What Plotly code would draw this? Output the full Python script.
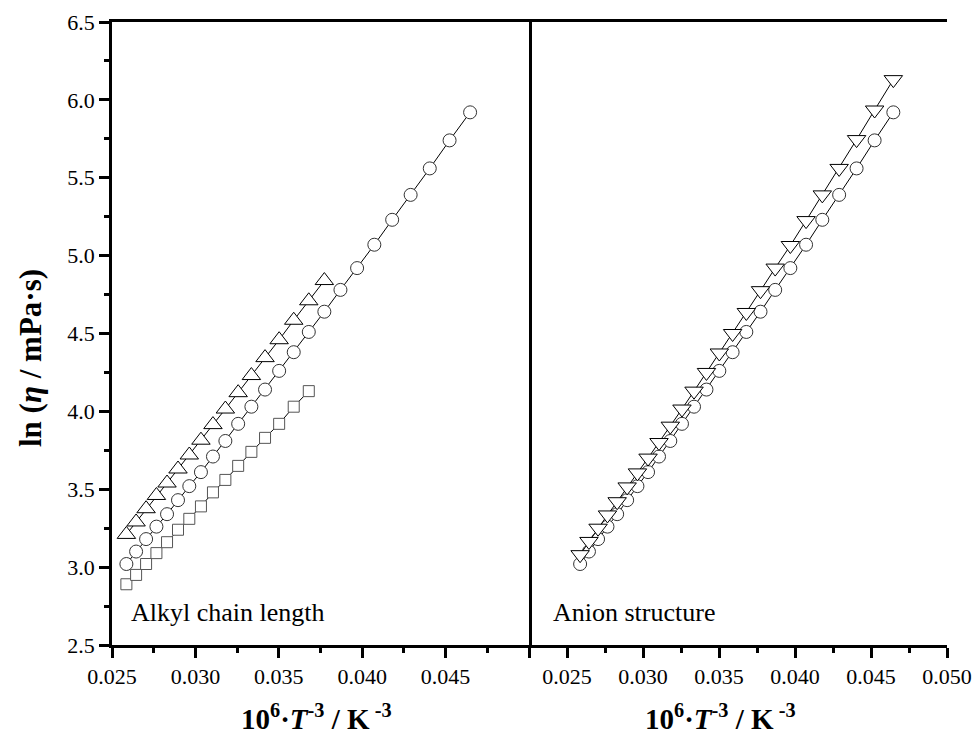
import plotly.graph_objects as go

# 10^6 * T^-3 values (K^-3), T = 338.15 K down to 278.15 K
x_T = [0.025863, 0.026445, 0.027044, 0.027663, 0.028300, 0.028957, 0.029634,
       0.030332, 0.031053, 0.031797, 0.032564, 0.033357, 0.034175, 0.035021,
       0.035895, 0.036798, 0.037731, 0.038696, 0.039694, 0.040728, 0.041797,
       0.042904, 0.044051, 0.045238, 0.046469]

# ln(eta / mPa s)
ln_eta_circle = [3.02, 3.10, 3.18, 3.26, 3.34, 3.43, 3.52, 3.61, 3.71, 3.81,
                 3.92, 4.03, 4.14, 4.26, 4.38, 4.51, 4.64, 4.78, 4.92, 5.07,
                 5.23, 5.39, 5.56, 5.74, 5.92]
ln_eta_triup = [3.21, 3.29, 3.375, 3.46, 3.54, 3.63, 3.72, 3.815, 3.915, 4.015,
                4.12, 4.23, 4.345, 4.46, 4.585, 4.71, 4.84]
ln_eta_square = [2.89, 2.95, 3.02, 3.09, 3.16, 3.24, 3.31, 3.39, 3.48, 3.56,
                 3.65, 3.74, 3.83, 3.92, 4.03, 4.13]
ln_eta_tridown = [3.08, 3.165, 3.25, 3.335, 3.42, 3.515, 3.605, 3.70, 3.80, 3.905,
                  4.015, 4.13, 4.25, 4.375, 4.50, 4.635, 4.775, 4.92, 5.065, 5.225,
                  5.39, 5.56, 5.745, 5.935, 6.13]

x_tickvals = [0.025, 0.030, 0.035, 0.040, 0.045, 0.050]
x_ticktext_left = ["0.025", "0.030", "0.035", "0.040", "0.045", ""]
x_ticktext_right = ["0.025", "0.030", "0.035", "0.040", "0.045", "0.050"]
y_tickvals = [2.5, 3.0, 3.5, 4.0, 4.5, 5.0, 5.5, 6.0, 6.5]
y_ticktext = ["2.5", "3.0", "3.5", "4.0", "4.5", "5.0", "5.5", "6.0", "6.5"]

panel_labels = ["Alkyl chain length", "Anion structure"]

FONT = "Times New Roman, Liberation Serif, DejaVu Serif, serif"

fig = go.Figure()


def add_series(x, y, symbol, size, edge, xa, ya):
    fig.add_trace(go.Scatter(
        x=x, y=y, mode="lines+markers", xaxis=xa, yaxis=ya,
        line=dict(color="black", width=1),
        marker=dict(symbol=symbol, size=size, color="white",
                    line=dict(color=edge, width=1)),
        showlegend=False, cliponaxis=False))


# Left panel
add_series(x_T[:16], ln_eta_square, "square", 11, "#555555", "x", "y")
add_series(x_T, ln_eta_circle, "circle", 13, "#333333", "x", "y")
add_series(x_T[:17], ln_eta_triup, "triangle-up", 16, "black", "x", "y")
# Right panel
add_series(x_T, ln_eta_circle, "circle", 13, "#333333", "x2", "y2")
add_series(x_T, ln_eta_tridown, "triangle-down", 16, "black", "x2", "y2")

W, H = 976, 737
xl0, xl1, xr1 = 112, 529, 947
yt, yb = 22, 645
pw = xr1 - xl0
ph = yb - yt
split = (xl1 - xl0) / pw


def px(x):
    return (x - xl0) / pw


def py(y):
    return (yb - y) / ph


common_x = dict(
    showline=True, linecolor="black", linewidth=2.5, mirror=True,
    ticks="outside", ticklen=10, tickwidth=2.5, tickcolor="black",
    showgrid=False, zeroline=False, tickmode="array", tickvals=x_tickvals,
    automargin=False, ticklabeloverflow="allow",
    tickfont=dict(family=FONT, size=22, color="black"),
    minor=dict(tick0=0.025, dtick=0.0025, ticks="outside", ticklen=5,
               tickwidth=2.5, tickcolor="black", showgrid=False),
)

fig.update_layout(
    width=W, height=H,
    margin=dict(l=xl0, r=W - xr1, t=yt, b=H - yb, pad=0, autoexpand=False),
    paper_bgcolor="white", plot_bgcolor="white",
    font=dict(family=FONT, color="black"),
    xaxis=dict(common_x, domain=[0, split], range=[0.025, 0.050],
               ticktext=x_ticktext_left, anchor="y"),
    xaxis2=dict(common_x, domain=[split, 1], range=[0.0225, 0.050],
                ticktext=x_ticktext_right, anchor="y2"),
    yaxis=dict(domain=[0, 1], range=[2.5, 6.5], anchor="x", automargin=False,
               showline=True, linecolor="black", linewidth=2.5, mirror=True,
               ticks="outside", ticklen=10, tickwidth=2.5, tickcolor="black",
               tickmode="array", tickvals=y_tickvals, ticktext=y_ticktext,
               ticklabeloverflow="allow",
               tickfont=dict(family=FONT, size=22, color="black"),
               minor=dict(tick0=2.5, dtick=0.25, ticks="outside", ticklen=5,
                          tickwidth=2.5, tickcolor="black", showgrid=False),
               showgrid=False, zeroline=False),
    yaxis2=dict(domain=[0, 1], range=[2.5, 6.5], anchor="x2", automargin=False,
                matches="y", showline=False,
                ticks="", showticklabels=False, showgrid=False, zeroline=False),
)

xtitle = "<b>10<sup>6</sup>·<i>T</i><sup>-3</sup> / K<sup> -3</sup></b>"
annotations = [
    dict(text=xtitle, x=px(316), y=py(717), xref="paper", yref="paper",
         showarrow=False, font=dict(family=FONT, size=29, color="black"),
         xanchor="center", yanchor="middle"),
    dict(text=xtitle, x=px(720), y=py(717), xref="paper", yref="paper",
         showarrow=False, font=dict(family=FONT, size=29, color="black"),
         xanchor="center", yanchor="middle"),
    dict(text="<b>ln (<i>η</i> / mPa·s)</b>", x=px(30), y=py(358),
         xref="paper", yref="paper", showarrow=False, textangle=-90,
         font=dict(family=FONT, size=31, color="black"),
         xanchor="center", yanchor="middle"),
    dict(text=panel_labels[0], x=px(129), y=py(612), xref="paper",
         yref="paper", showarrow=False, xanchor="left", yanchor="middle",
         font=dict(family=FONT, size=26, color="black")),
    dict(text=panel_labels[1], x=px(551), y=py(612), xref="paper",
         yref="paper", showarrow=False, xanchor="left", yanchor="middle",
         font=dict(family=FONT, size=26, color="black")),
]
fig.update_layout(annotations=annotations)

# remove the default page margin so the figure fills the 976x737 window exactly
fig.write_html(
    "out.html",
    config={"displayModeBar": False},
    post_script="document.body.style.margin='0';document.body.style.overflow='hidden';",
)
